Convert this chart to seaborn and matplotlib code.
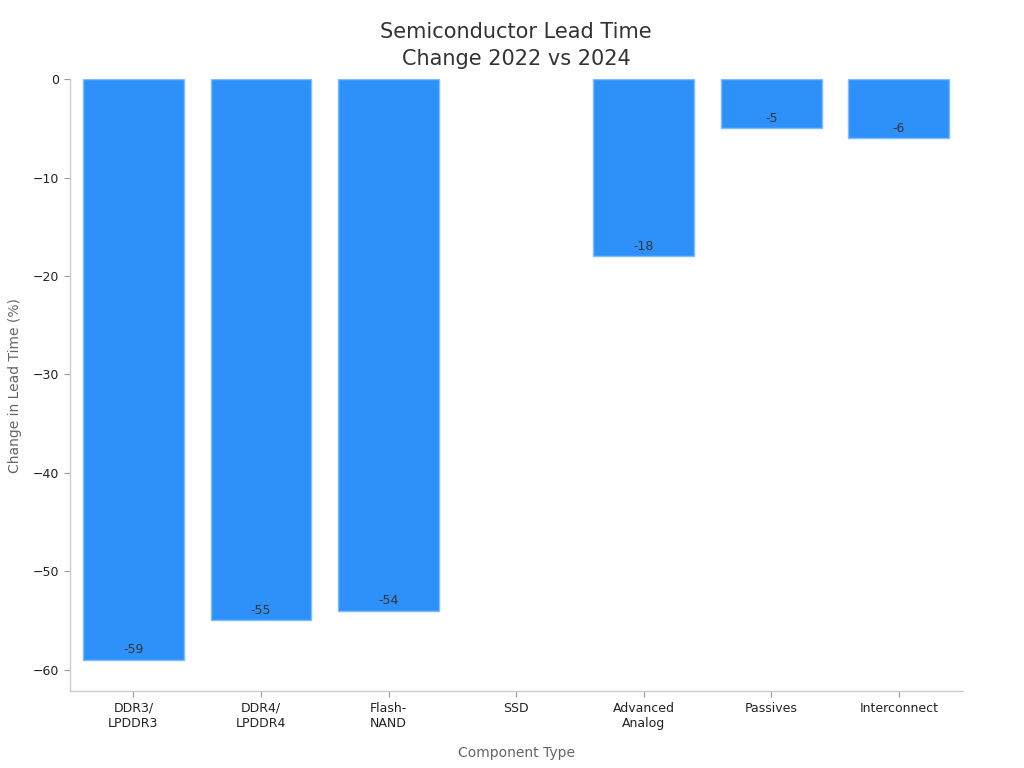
import numpy as np
import pandas as pd
import matplotlib
matplotlib.use('Agg')
import matplotlib.pyplot as plt
import seaborn as sns

# Data
components = ['DDR3/\nLPDDR3', 'DDR4/\nLPDDR4', 'Flash-\nNAND', 'SSD',
              'Advanced\nAnalog', 'Passives', 'Interconnect']
change = [-59, -55, -54, np.nan, -18, -5, -6]

df = pd.DataFrame({'component': components, 'change': change})

sns.set_theme(style='white')
plt.rcParams['font.family'] = ['DejaVu Sans']

fig, ax = plt.subplots(figsize=(10.24, 7.68), dpi=100)
fig.subplots_adjust(left=0.068, right=0.940, top=0.897, bottom=0.100)

sns.barplot(data=df, x='component', y='change', color='#2E91FA',
            saturation=1, width=0.79, edgecolor='#7FBCFB', linewidth=1, ax=ax)

# value labels just inside the end of each bar
for i, v in enumerate(change):
    if not np.isnan(v):
        ax.text(i, v + 1, f'{v:.0f}', ha='center', va='center',
                fontsize=9, color='#333333')

ax.set_xlim(-0.5, 6.5)
ax.set_ylim(-62.2, 0)
ax.set_yticks([0, -10, -20, -30, -40, -50, -60])
ax.set_yticklabels(['0', '\u221210', '\u221220', '\u221230', '\u221240', '\u221250', '\u221260'])

ax.set_title('Semiconductor Lead Time\nChange 2022 vs 2024', fontsize=15,
             color='#333333', pad=10, linespacing=1.45)
ax.set_xlabel('Component Type', fontsize=10, color='#666666', labelpad=12)
ax.set_ylabel('Change in Lead Time (%)', fontsize=10, color='#666666', labelpad=8)

ax.tick_params(axis='both', labelsize=9, colors='#222222', length=4,
               width=0.8, left=True, bottom=True)
ax.tick_params(axis='both', color='#999999')
sns.despine(ax=ax)
for side in ['left', 'bottom']:
    ax.spines[side].set_color('#cccccc')
    ax.spines[side].set_linewidth(1)

fig.savefig('out.png', dpi=100)
